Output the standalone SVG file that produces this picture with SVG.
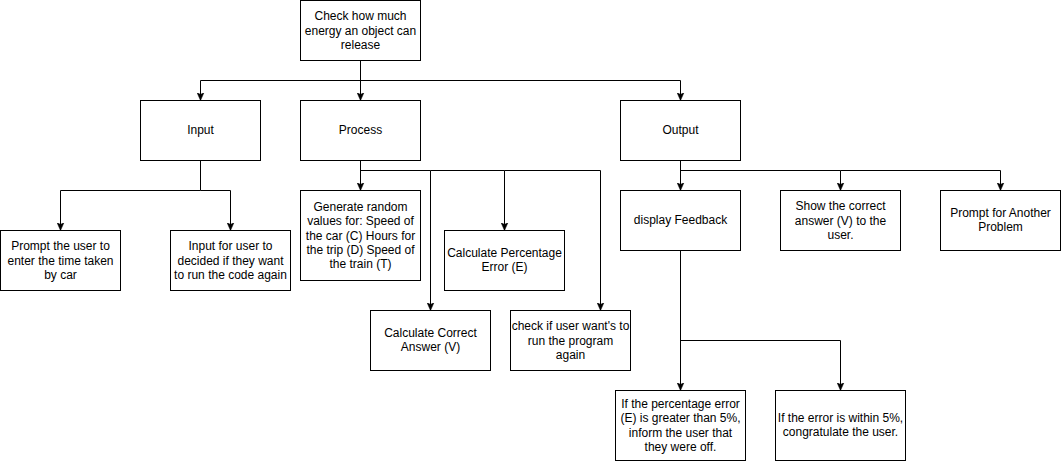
<svg xmlns="http://www.w3.org/2000/svg" width="1061" height="462" viewBox="0 0 1061 462">
<style>
.n rect{fill:#fff;stroke:#000;stroke-width:1}
.n text{font-family:"Liberation Sans",Arial,sans-serif;font-size:12px;fill:#000;text-anchor:middle}
.e path{fill:none;stroke:#000;stroke-width:1}
</style>
<defs>
<marker id="a" viewBox="0 0 8 8" refX="8" refY="4" markerWidth="8" markerHeight="8" markerUnits="userSpaceOnUse" orient="auto">
<path d="M0,0.5 L8,4 L0,7.5 L2,4 Z" fill="#000" stroke="#000" stroke-width="0.5"/>
</marker>
</defs>
<rect width="1061" height="462" fill="#fff"/>
<g transform="translate(0.5,0.5)">
<g class="e" id="connectors">
<path d="M360,60 V100" marker-end="url(#a)"/>
<path d="M360,80 H200 V100" marker-end="url(#a)"/>
<path d="M360,80 H680 V100" marker-end="url(#a)"/>
<path d="M200,160 V190 H60 V230" marker-end="url(#a)"/>
<path d="M200,190 H230 V230" marker-end="url(#a)"/>
<path d="M360,160 V190" marker-end="url(#a)"/>
<path d="M360,170 H430 V310" marker-end="url(#a)"/>
<path d="M430,170 H504 V230" marker-end="url(#a)"/>
<path d="M504,170 H600 V310" marker-end="url(#a)"/>
<path d="M680,160 V190" marker-end="url(#a)"/>
<path d="M680,170 H840 V190" marker-end="url(#a)"/>
<path d="M840,170 H1000 V190" marker-end="url(#a)"/>
<path d="M680,250 V390" marker-end="url(#a)"/>
<path d="M680,340 H840 V390" marker-end="url(#a)"/>
</g>
<g class="n" id="n-top"><rect x="300" y="0" width="120" height="60"/><text x="360"><tspan x="360" y="19.6">Check how much</tspan><tspan x="360" y="34">energy an object can</tspan><tspan x="360" y="48.4">release</tspan></text></g>
<g class="n" id="n-input"><rect x="140" y="100" width="120" height="60"/><text x="200" y="133">Input</text></g>
<g class="n" id="n-process"><rect x="300" y="100" width="120" height="60"/><text x="360" y="133">Process</text></g>
<g class="n" id="n-output"><rect x="620" y="100" width="120" height="60"/><text x="680" y="133">Output</text></g>
<g class="n" id="n-prompt-time"><rect x="0" y="230" width="120" height="60"/><text><tspan x="60" y="249.6">Prompt the user to</tspan><tspan x="60" y="264">enter the time taken</tspan><tspan x="60" y="278.4">by car</tspan></text></g>
<g class="n" id="n-input-again"><rect x="170" y="230" width="120" height="60"/><text><tspan x="230" y="249.6">Input for user to</tspan><tspan x="230" y="264">decided if they want</tspan><tspan x="230" y="278.4">to run the code again</tspan></text></g>
<g class="n" id="n-generate"><rect x="300" y="190" width="120" height="90"/><text><tspan x="360" y="210.2">Generate random</tspan><tspan x="360" y="224.6">values for: Speed of</tspan><tspan x="360" y="239">the car (C) Hours for</tspan><tspan x="360" y="253.4">the trip (D) Speed of</tspan><tspan x="360" y="267.8">the train (T)</tspan></text></g>
<g class="n" id="n-percentage"><rect x="444" y="230" width="120" height="60"/><text><tspan x="504" y="256.3">Calculate Percentage</tspan><tspan x="504" y="270.7">Error (E)</tspan></text></g>
<g class="n" id="n-correct"><rect x="370" y="310" width="120" height="60"/><text><tspan x="430" y="336.3">Calculate Correct</tspan><tspan x="430" y="350.7">Answer (V)</tspan></text></g>
<g class="n" id="n-check"><rect x="510" y="310" width="120" height="60"/><text><tspan x="570" y="329.6">check if user want's to</tspan><tspan x="570" y="344">run the program</tspan><tspan x="570" y="358.4">again</tspan></text></g>
<g class="n" id="n-feedback"><rect x="620" y="190" width="120" height="60"/><text x="680" y="223">display Feedback</text></g>
<g class="n" id="n-show"><rect x="780" y="190" width="120" height="60"/><text><tspan x="840" y="209.6">Show the correct</tspan><tspan x="840" y="224">answer (V) to the</tspan><tspan x="840" y="238.4">user.</tspan></text></g>
<g class="n" id="n-another"><rect x="940" y="190" width="120" height="60"/><text><tspan x="1000" y="216.3">Prompt for Another</tspan><tspan x="1000" y="230.7">Problem</tspan></text></g>
<g class="n" id="n-greater"><rect x="615" y="390" width="130" height="70"/><text><tspan x="680" y="407.4">If the percentage error</tspan><tspan x="680" y="421.8">(E) is greater than 5%,</tspan><tspan x="680" y="436.2">inform the user that</tspan><tspan x="680" y="450.6">they were off.</tspan></text></g>
<g class="n" id="n-within"><rect x="775" y="390" width="130" height="70"/><text><tspan x="840" y="421.3">If the error is within 5%,</tspan><tspan x="840" y="435.7">congratulate the user.</tspan></text></g>
</g>
</svg>
